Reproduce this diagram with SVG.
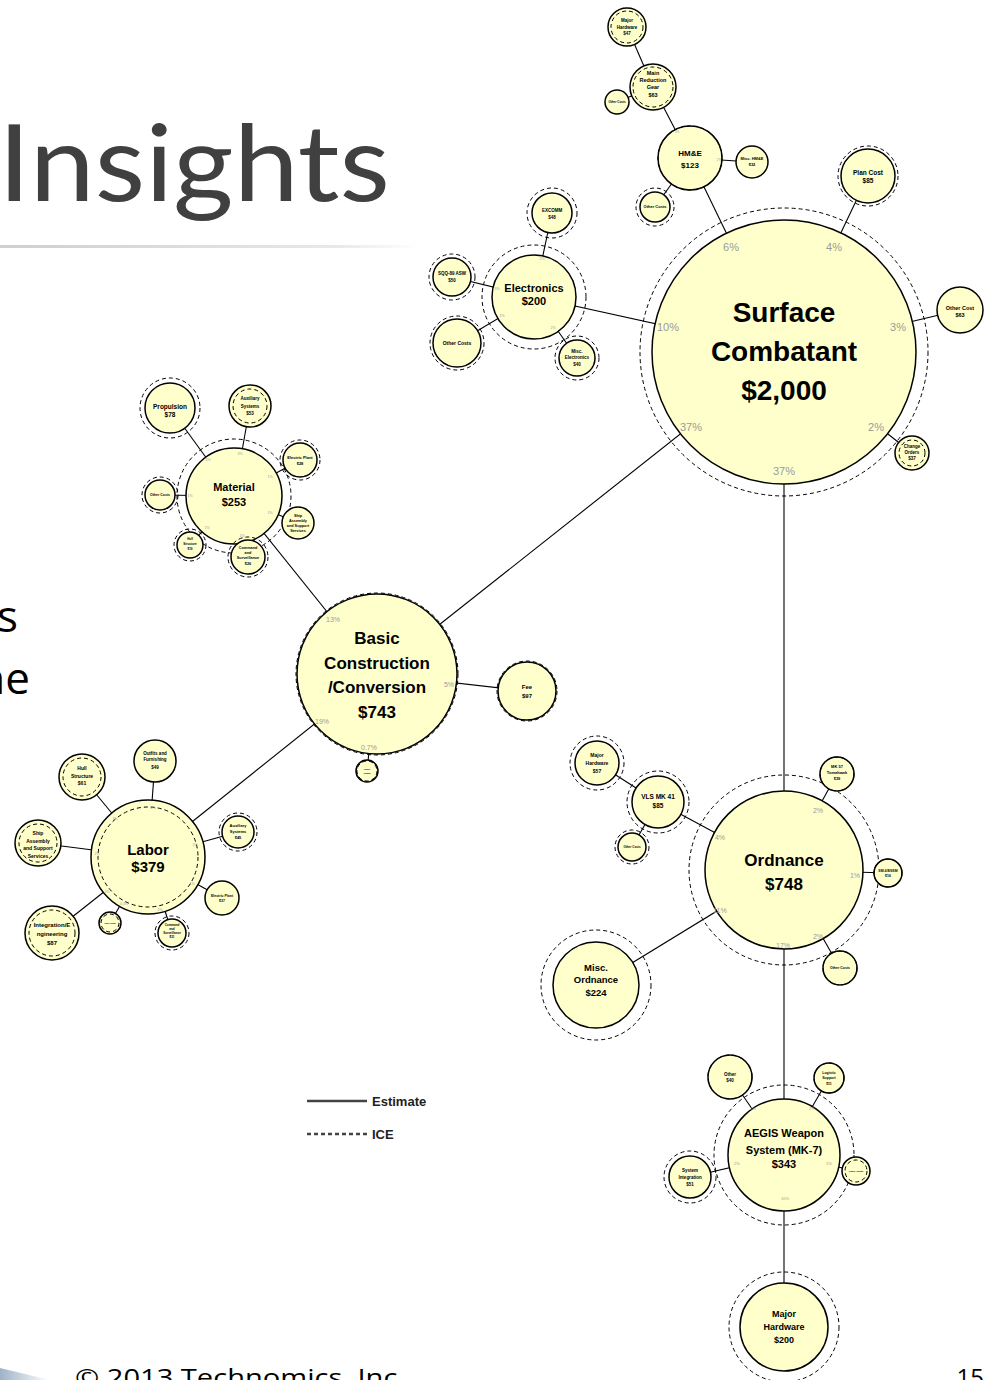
<svg xmlns="http://www.w3.org/2000/svg" width="990" height="1380" viewBox="0 0 990 1380">
<defs>
<linearGradient id="bar" x1="0" y1="0" x2="1" y2="0"><stop offset="0" stop-color="#cfcfcf"/><stop offset="0.8" stop-color="#e8e8e8"/><stop offset="1" stop-color="#ffffff"/></linearGradient>
<linearGradient id="corner" x1="0" y1="0" x2="1" y2="0"><stop offset="0" stop-color="#9fb3c8"/><stop offset="1" stop-color="#ffffff"/></linearGradient>
<style>
.b{fill:#FFFFCC;stroke:#000;stroke-width:1.5}
.d{fill:none;stroke:#000;stroke-width:1;stroke-dasharray:4 3}
.c line{stroke:#000;stroke-width:1.1}
.t{font-family:"Liberation Sans",Arial,sans-serif;font-weight:bold;text-anchor:middle;fill:#000}
.p{font-family:"Liberation Sans",Arial,sans-serif;text-anchor:middle;fill:#9a9a9a}
</style>
</defs>
<rect width="990" height="1380" fill="#fff"/>
<text x="-2" y="201" font-family="Lato, 'Open Sans', sans-serif" font-size="106" fill="#404040" textLength="392" lengthAdjust="spacingAndGlyphs">Insights</text>
<rect x="0" y="245" width="420" height="3" fill="url(#bar)"/>
<text x="18" y="632" font-family="'Open Sans', sans-serif" font-size="44" fill="#000" text-anchor="end">s</text>
<text x="30" y="694" font-family="'Open Sans', sans-serif" font-size="44" fill="#000" text-anchor="end">ne</text>
<text x="75" y="1386" font-family="'Open Sans', sans-serif" font-size="24" fill="#000" textLength="330" lengthAdjust="spacingAndGlyphs">© 2013 Technomics, Inc.</text>
<text x="984" y="1386" font-family="'Open Sans', sans-serif" font-size="24" fill="#000" text-anchor="end">15</text>
<polygon points="0,1368 50,1380 0,1380" fill="url(#corner)"/>

<g id="connectors" class="c">
<line x1="784" y1="352" x2="690" y2="158"/>
<line x1="784" y1="352" x2="868" y2="176"/>
<line x1="784" y1="352" x2="960" y2="310"/>
<line x1="784" y1="352" x2="912" y2="453"/>
<line x1="784" y1="352" x2="534" y2="297"/>
<line x1="784" y1="352" x2="377" y2="674"/>
<line x1="784" y1="352" x2="784" y2="870"/>
<line x1="690" y1="158" x2="653" y2="87"/>
<line x1="653" y1="87" x2="627" y2="27"/>
<line x1="653" y1="87" x2="617" y2="102"/>
<line x1="690" y1="158" x2="752" y2="162"/>
<line x1="690" y1="158" x2="655" y2="207"/>
<line x1="534" y1="297" x2="552" y2="213"/>
<line x1="534" y1="297" x2="452" y2="277"/>
<line x1="534" y1="297" x2="457" y2="343"/>
<line x1="534" y1="297" x2="577" y2="358"/>
<line x1="377" y1="674" x2="234" y2="496"/>
<line x1="377" y1="674" x2="527" y2="691"/>
<line x1="377" y1="674" x2="367" y2="771"/>
<line x1="377" y1="674" x2="148" y2="857"/>
<line x1="234" y1="496" x2="170" y2="408"/>
<line x1="234" y1="496" x2="250" y2="406"/>
<line x1="234" y1="496" x2="300" y2="460"/>
<line x1="234" y1="496" x2="298" y2="523"/>
<line x1="234" y1="496" x2="248" y2="557"/>
<line x1="234" y1="496" x2="190" y2="545"/>
<line x1="234" y1="496" x2="160" y2="495"/>
<line x1="148" y1="857" x2="82" y2="777"/>
<line x1="148" y1="857" x2="155" y2="761"/>
<line x1="148" y1="857" x2="38" y2="843"/>
<line x1="148" y1="857" x2="52" y2="933"/>
<line x1="148" y1="857" x2="110" y2="923"/>
<line x1="148" y1="857" x2="172" y2="933"/>
<line x1="148" y1="857" x2="238" y2="832"/>
<line x1="148" y1="857" x2="222" y2="898"/>
<line x1="784" y1="870" x2="658" y2="802"/>
<line x1="784" y1="870" x2="837" y2="774"/>
<line x1="784" y1="870" x2="888" y2="873"/>
<line x1="784" y1="870" x2="840" y2="968"/>
<line x1="784" y1="870" x2="596" y2="985"/>
<line x1="784" y1="870" x2="784" y2="1155"/>
<line x1="658" y1="802" x2="597" y2="763"/>
<line x1="658" y1="802" x2="632" y2="847"/>
<line x1="784" y1="1155" x2="730" y2="1077"/>
<line x1="784" y1="1155" x2="829" y2="1078"/>
<line x1="784" y1="1155" x2="690" y2="1177"/>
<line x1="784" y1="1155" x2="856" y2="1171"/>
<line x1="784" y1="1155" x2="784" y2="1327"/>
</g>

<g id="surface-combatant">
<circle class="b" cx="784" cy="352" r="132"/><circle class="d" cx="784" cy="352" r="144"/>
<text class="t" style="font-size:28px"><tspan x="784" y="322">Surface</tspan><tspan x="784" y="361">Combatant</tspan><tspan x="784" y="400">$2,000</tspan></text>
<g class="p" style="font-size:11px"><text x="731" y="251">6%</text><text x="834" y="251">4%</text><text x="668" y="331">10%</text><text x="898" y="331">3%</text><text x="691" y="431">37%</text><text x="876" y="431">2%</text><text x="784" y="475">37%</text></g>
</g>
<g id="hme">
<circle class="b" cx="690" cy="158" r="32"/><circle class="d" cx="690" cy="158" r="32"/>
<text class="t" style="font-size:8px"><tspan x="690" y="156">HM&amp;E</tspan><tspan x="690" y="168">$123</tspan></text>
<g class="p" style="font-size:3px"><text x="677" y="133">3%</text><text x="719" y="161">2%</text></g>
</g>
<g id="main-reduction-gear">
<circle class="b" cx="653" cy="87" r="23"/><circle class="d" cx="653" cy="87" r="20"/>
<text class="t" style="font-size:5.5px"><tspan x="653" y="75">Main</tspan><tspan x="653" y="82">Reduction</tspan><tspan x="653" y="89">Gear</tspan><tspan x="653" y="97">$63</tspan></text>
</g>
<g id="hme-major-hardware">
<circle class="b" cx="627" cy="27" r="19"/><circle class="d" cx="627" cy="27" r="16"/>
<text class="t" style="font-size:4.5px"><tspan x="627" y="22">Major</tspan><tspan x="627" y="29">Hardware</tspan><tspan x="627" y="35">$47</tspan></text>
</g>
<g id="mrg-other-costs">
<circle class="b" cx="617" cy="102" r="12"/>
<text class="t" style="font-size:3px" x="617" y="103">Other Costs</text>
</g>
<g id="misc-hme">
<circle class="b" cx="752" cy="162" r="16"/>
<text class="t" style="font-size:4px"><tspan x="752" y="160">Misc. HM&amp;E</tspan><tspan x="752" y="166">$32</tspan></text>
</g>
<g id="hme-other-costs">
<circle class="b" cx="655" cy="207" r="15"/><circle class="d" cx="655" cy="207" r="19"/>
<text class="t" style="font-size:4px" x="655" y="208">Other Costs</text>
</g>
<g id="plan-cost">
<circle class="b" cx="868" cy="176" r="27"/><circle class="d" cx="868" cy="176" r="30"/>
<text class="t" style="font-size:6.5px"><tspan x="868" y="175">Plan Cost</tspan><tspan x="868" y="183">$85</tspan></text>
</g>
<g id="other-cost">
<circle class="b" cx="960" cy="310" r="23"/>
<text class="t" style="font-size:5.5px"><tspan x="960" y="310">Other Cost</tspan><tspan x="960" y="317">$63</tspan></text>
</g>
<g id="change-orders">
<circle class="b" cx="912" cy="453" r="17"/><circle class="d" cx="912" cy="453" r="13"/>
<text class="t" style="font-size:4.5px"><tspan x="912" y="448">Change</tspan><tspan x="912" y="454">Orders</tspan><tspan x="912" y="460">$37</tspan></text>
</g>

<g id="electronics">
<circle class="b" cx="534" cy="297" r="42"/><circle class="d" cx="534" cy="297" r="52"/>
<text class="t" style="font-size:11px"><tspan x="534" y="292">Electronics</tspan><tspan x="534" y="305">$200</tspan></text>
<g class="p" style="font-size:3.5px"><text x="542" y="260">2%</text><text x="497" y="290">3%</text><text x="502" y="317">3%</text><text x="553" y="329">2%</text></g>
</g>
<g id="excomm">
<circle class="b" cx="552" cy="213" r="20"/><circle class="d" cx="552" cy="213" r="25"/>
<text class="t" style="font-size:4.5px"><tspan x="552" y="212">EXCOMM</tspan><tspan x="552" y="219">$48</tspan></text>
</g>
<g id="sqq89">
<circle class="b" cx="452" cy="277" r="19"/><circle class="d" cx="452" cy="277" r="23"/>
<text class="t" style="font-size:4.5px"><tspan x="452" y="275">SQQ-89 ASW</tspan><tspan x="452" y="282">$50</tspan></text>
</g>
<g id="electronics-other-costs">
<circle class="b" cx="457" cy="343" r="24"/><circle class="d" cx="457" cy="343" r="27"/>
<text class="t" style="font-size:5px" x="457" y="345">Other Costs</text>
</g>
<g id="misc-electronics">
<circle class="b" cx="577" cy="358" r="18"/><circle class="d" cx="577" cy="358" r="22"/>
<text class="t" style="font-size:4.5px"><tspan x="577" y="353">Misc.</tspan><tspan x="577" y="359">Electronics</tspan><tspan x="577" y="366">$40</tspan></text>
</g>

<g id="basic-construction">
<circle class="b" cx="377" cy="674" r="80"/><circle class="d" cx="377" cy="674" r="81"/>
<text class="t" style="font-size:17px"><tspan x="377" y="644">Basic</tspan><tspan x="377" y="669">Construction</tspan><tspan x="377" y="693">/Conversion</tspan><tspan x="377" y="718">$743</tspan></text>
<g class="p" style="font-size:7px"><text x="333" y="622">13%</text><text x="449" y="687">5%</text><text x="322" y="724">19%</text><text x="369" y="750">0.7%</text></g>
</g>
<g id="fee">
<circle class="b" cx="527" cy="691" r="29"/><circle class="d" cx="527" cy="691" r="30"/>
<text class="t" style="font-size:6px"><tspan x="527" y="689">Fee</tspan><tspan x="527" y="698">$97</tspan></text>
</g>
<g id="bc-other-costs">
<circle class="b" cx="367" cy="771" r="11"/><circle class="d" cx="367" cy="771" r="10"/>
<text class="t" style="font-size:2.5px"><tspan x="367" y="770">Other</tspan><tspan x="367" y="774">Costs</tspan></text>
</g>

<g id="material">
<circle class="b" cx="234" cy="496" r="48"/><circle class="d" cx="234" cy="496" r="57"/>
<text class="t" style="font-size:11px"><tspan x="234" y="491">Material</tspan><tspan x="234" y="506">$253</tspan></text>
<g class="p" style="font-size:3.5px"><text x="208" y="461">3%</text><text x="240" y="455">3%</text><text x="270" y="478">1%</text><text x="190" y="497">1%</text><text x="270" y="514">1%</text><text x="207" y="529">1%</text><text x="242" y="537">1%</text></g>
</g>
<g id="propulsion">
<circle class="b" cx="170" cy="408" r="25"/><circle class="d" cx="170" cy="408" r="30"/>
<text class="t" style="font-size:6.5px"><tspan x="170" y="409">Propulsion</tspan><tspan x="170" y="417">$78</tspan></text>
</g>
<g id="mat-auxiliary">
<circle class="b" cx="250" cy="406" r="21"/><circle class="d" cx="250" cy="406" r="17"/>
<text class="t" style="font-size:4.5px"><tspan x="250" y="400">Auxiliary</tspan><tspan x="250" y="408">Systems</tspan><tspan x="250" y="415">$53</tspan></text>
</g>
<g id="mat-electric">
<circle class="b" cx="300" cy="460" r="17"/><circle class="d" cx="300" cy="460" r="20"/>
<text class="t" style="font-size:4px"><tspan x="300" y="459">Electric Plant</tspan><tspan x="300" y="465">$28</tspan></text>
</g>
<g id="mat-ship-assembly">
<circle class="b" cx="298" cy="523" r="16"/>
<text class="t" style="font-size:3.8px"><tspan x="298" y="517">Ship</tspan><tspan x="298" y="522">Assembly</tspan><tspan x="298" y="527">and Support</tspan><tspan x="298" y="532">Services</tspan></text>
</g>
<g id="mat-command">
<circle class="b" cx="248" cy="557" r="17"/><circle class="d" cx="248" cy="557" r="20"/>
<text class="t" style="font-size:3.8px"><tspan x="248" y="549">Command</tspan><tspan x="248" y="554">and</tspan><tspan x="248" y="559">Surveillance</tspan><tspan x="248" y="565">$26</tspan></text>
</g>
<g id="mat-hull">
<circle class="b" cx="190" cy="545" r="13"/><circle class="d" cx="190" cy="545" r="16"/>
<text class="t" style="font-size:3px"><tspan x="190" y="540">Hull</tspan><tspan x="190" y="545">Structure</tspan><tspan x="190" y="550">$19</tspan></text>
</g>
<g id="mat-other-costs">
<circle class="b" cx="160" cy="495" r="15"/><circle class="d" cx="160" cy="495" r="18"/>
<text class="t" style="font-size:3.5px" x="160" y="496">Other Costs</text>
</g>

<g id="labor">
<circle class="b" cx="148" cy="857" r="57"/><circle class="d" cx="148" cy="857" r="50"/>
<text class="t" style="font-size:15px"><tspan x="148" y="855">Labor</tspan><tspan x="148" y="872">$379</tspan></text>
<g class="p" style="font-size:3.5px"><text x="153" y="809">2%</text><text x="115" y="820">3%</text><text x="195" y="846">2%</text><text x="97" y="855">2%</text><text x="192" y="885">1%</text><text x="107" y="893">3%</text><text x="124" y="905">0.3%</text><text x="160" y="911">2%</text></g>
</g>
<g id="lab-hull">
<circle class="b" cx="82" cy="777" r="23"/><circle class="d" cx="82" cy="777" r="19"/>
<text class="t" style="font-size:5px"><tspan x="82" y="770">Hull</tspan><tspan x="82" y="778">Structure</tspan><tspan x="82" y="785">$61</tspan></text>
</g>
<g id="lab-outfits">
<circle class="b" cx="155" cy="761" r="21"/>
<text class="t" style="font-size:4.5px"><tspan x="155" y="755">Outfits and</tspan><tspan x="155" y="761">Furnishing</tspan><tspan x="155" y="769">$49</tspan></text>
</g>
<g id="lab-ship-assembly">
<circle class="b" cx="38" cy="843" r="23"/><circle class="d" cx="38" cy="843" r="19"/>
<text class="t" style="font-size:5px"><tspan x="38" y="835">Ship</tspan><tspan x="38" y="843">Assembly</tspan><tspan x="38" y="850">and Support</tspan><tspan x="38" y="858">Services</tspan></text>
</g>
<g id="lab-integration">
<circle class="b" cx="52" cy="933" r="27"/><circle class="d" cx="52" cy="933" r="23"/>
<text class="t" style="font-size:6px"><tspan x="52" y="927">Integration/E</tspan><tspan x="52" y="936">ngineering</tspan><tspan x="52" y="945">$87</tspan></text>
</g>
<g id="lab-other-costs">
<circle class="b" cx="110" cy="923" r="11"/><circle class="d" cx="110" cy="923" r="9"/>
<text class="t" style="font-size:2px" x="110" y="924">Other Costs</text>
</g>
<g id="lab-command">
<circle class="b" cx="172" cy="933" r="14"/><circle class="d" cx="172" cy="933" r="17"/>
<text class="t" style="font-size:3px"><tspan x="172" y="926">Command</tspan><tspan x="172" y="930">and</tspan><tspan x="172" y="934">Surveillance</tspan><tspan x="172" y="938">$31</tspan></text>
</g>
<g id="lab-auxiliary">
<circle class="b" cx="238" cy="832" r="16"/><circle class="d" cx="238" cy="832" r="19"/>
<text class="t" style="font-size:4px"><tspan x="238" y="827">Auxiliary</tspan><tspan x="238" y="833">Systems</tspan><tspan x="238" y="839">$45</tspan></text>
</g>
<g id="lab-electric">
<circle class="b" cx="222" cy="898" r="17"/>
<text class="t" style="font-size:3.5px"><tspan x="222" y="897">Electric Plant</tspan><tspan x="222" y="902">$37</tspan></text>
</g>

<g id="ordnance">
<circle class="b" cx="784" cy="870" r="79"/><circle class="d" cx="784" cy="870" r="95"/>
<text class="t" style="font-size:17px"><tspan x="784" y="866">Ordnance</tspan><tspan x="784" y="890">$748</tspan></text>
<g class="p" style="font-size:7px"><text x="818" y="813">2%</text><text x="720" y="840">4%</text><text x="855" y="878">1%</text><text x="720" y="913">11%</text><text x="783" y="948">17%</text><text x="818" y="939">2%</text></g>
</g>
<g id="mk57">
<circle class="b" cx="837" cy="774" r="17"/><circle class="d" cx="837" cy="774" r="17"/>
<text class="t" style="font-size:4px"><tspan x="837" y="768">MK 57</tspan><tspan x="837" y="774">Tomahawk</tspan><tspan x="837" y="780">$39</tspan></text>
</g>
<g id="sm6">
<circle class="b" cx="888" cy="873" r="14"/><circle class="d" cx="888" cy="873" r="14"/>
<text class="t" style="font-size:3.5px"><tspan x="888" y="872">SM-6/ESSM</tspan><tspan x="888" y="877">$16</tspan></text>
</g>
<g id="ord-other-costs">
<circle class="b" cx="840" cy="968" r="17"/><circle class="d" cx="840" cy="968" r="17"/>
<text class="t" style="font-size:3.5px" x="840" y="969">Other Costs</text>
</g>
<g id="vls">
<circle class="b" cx="658" cy="802" r="26"/><circle class="d" cx="658" cy="802" r="31"/>
<text class="t" style="font-size:6.5px"><tspan x="658" y="799">VLS MK 41</tspan><tspan x="658" y="808">$85</tspan></text>
</g>
<g id="vls-major-hardware">
<circle class="b" cx="597" cy="763" r="22"/><circle class="d" cx="597" cy="763" r="27"/>
<text class="t" style="font-size:5px"><tspan x="597" y="757">Major</tspan><tspan x="597" y="765">Hardware</tspan><tspan x="597" y="773">$57</tspan></text>
</g>
<g id="vls-other-costs">
<circle class="b" cx="632" cy="847" r="14"/><circle class="d" cx="632" cy="847" r="17"/>
<text class="t" style="font-size:3px" x="632" y="848">Other Costs</text>
</g>
<g id="misc-ordnance">
<circle class="b" cx="596" cy="985" r="43"/><circle class="d" cx="596" cy="985" r="55"/>
<text class="t" style="font-size:9.5px"><tspan x="596" y="971">Misc.</tspan><tspan x="596" y="983">Ordnance</tspan><tspan x="596" y="996">$224</tspan></text>
</g>

<g id="aegis">
<circle class="b" cx="784" cy="1155" r="56"/><circle class="d" cx="784" cy="1155" r="70"/>
<text class="t" style="font-size:11px"><tspan x="784" y="1137">AEGIS Weapon</tspan><tspan x="784" y="1154">System (MK-7)</tspan><tspan x="784" y="1168">$343</tspan></text>
<g class="p" style="font-size:4px"><text x="753" y="1110">2%</text><text x="812" y="1110">2%</text><text x="737" y="1165">2%</text><text x="829" y="1165">1%</text><text x="785" y="1200">10%</text></g>
</g>
<g id="aegis-other">
<circle class="b" cx="730" cy="1077" r="22"/><circle class="d" cx="730" cy="1077" r="22"/>
<text class="t" style="font-size:4.5px"><tspan x="730" y="1076">Other</tspan><tspan x="730" y="1082">$40</tspan></text>
</g>
<g id="logistic-support">
<circle class="b" cx="829" cy="1078" r="15"/><circle class="d" cx="829" cy="1078" r="15"/>
<text class="t" style="font-size:3.5px"><tspan x="829" y="1074">Logistic</tspan><tspan x="829" y="1079">Support</tspan><tspan x="829" y="1085">$11</tspan></text>
</g>
<g id="system-integration">
<circle class="b" cx="690" cy="1177" r="21"/><circle class="d" cx="690" cy="1177" r="26"/>
<text class="t" style="font-size:4.5px"><tspan x="690" y="1172">System</tspan><tspan x="690" y="1179">Integration</tspan><tspan x="690" y="1186">$51</tspan></text>
</g>
<g id="aegis-other-costs">
<circle class="b" cx="856" cy="1171" r="14"/><circle class="d" cx="856" cy="1171" r="11"/>
<text class="t" style="font-size:2.5px" x="856" y="1172">Other Costs</text>
</g>
<g id="aegis-major-hardware">
<circle class="b" cx="784" cy="1327" r="44"/><circle class="d" cx="784" cy="1327" r="55"/>
<text class="t" style="font-size:9px"><tspan x="784" y="1317">Major</tspan><tspan x="784" y="1330">Hardware</tspan><tspan x="784" y="1343">$200</tspan></text>
</g>

<g id="legend">
<line x1="307" y1="1101" x2="367" y2="1101" stroke="#444" stroke-width="2.5"/>
<text x="372" y="1106" font-family="'Liberation Sans',Arial,sans-serif" font-weight="bold" font-size="13" fill="#222">Estimate</text>
<line x1="307" y1="1134" x2="367" y2="1134" stroke="#444" stroke-width="2.5" stroke-dasharray="4 3"/>
<text x="372" y="1139" font-family="'Liberation Sans',Arial,sans-serif" font-weight="bold" font-size="13" fill="#222">ICE</text>
</g>
</svg>
